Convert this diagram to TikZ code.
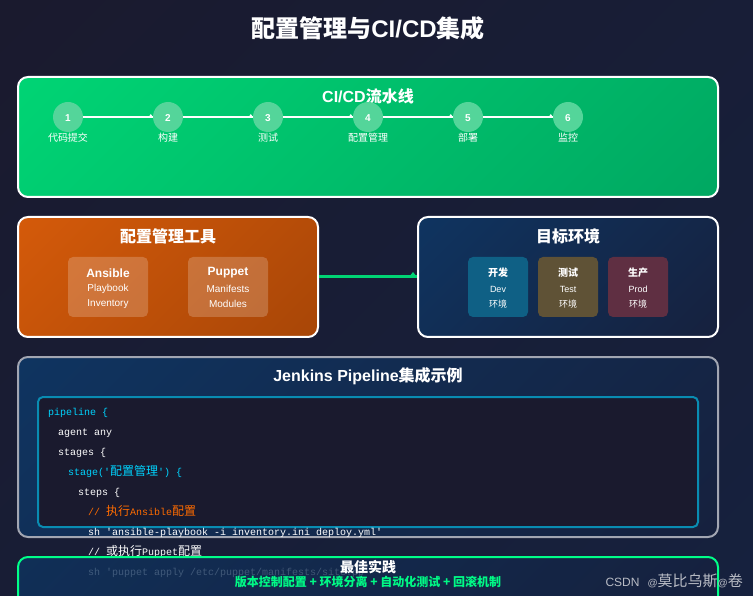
\documentclass[tikz,border=0pt]{standalone}
\usepackage{fontspec}
\setmainfont{Liberation Sans}
\setmonofont{Liberation Mono}
\newfontfamily\cjk{Noto Sans CJK SC}
\newcommand{\zh}[1]{{\cjk #1}}
\newcommand{\zhcode}[1]{{\cjk\fontsize{12}{12}\selectfont #1}}
\definecolor{bgdark}{HTML}{1A1A2E}
\definecolor{bgblue}{HTML}{16213E}
\definecolor{navy}{HTML}{0F3460}
\definecolor{greenA}{HTML}{00D474}
\definecolor{greenB}{HTML}{00A862}
\definecolor{orangeA}{HTML}{D45A0A}
\definecolor{orangeB}{HTML}{A84607}
\definecolor{mint}{HTML}{00FF88}
\definecolor{cyanline}{HTML}{00D4FF}
\definecolor{codeorange}{HTML}{FF6B00}
\definecolor{dotgreen}{HTML}{54D59A}
\definecolor{devblue}{HTML}{0F6085}
\definecolor{testbrown}{HTML}{5F5236}
\definecolor{prodwine}{HTML}{5F2F42}
\pgfdeclareverticalshading{greenfade}{100bp}{color(0bp)=(greenB); color(15bp)=(greenB); color(85bp)=(greenA); color(100bp)=(greenA)}
\pgfdeclareverticalshading{orangefade}{100bp}{color(0bp)=(orangeB); color(15bp)=(orangeB); color(85bp)=(orangeA); color(100bp)=(orangeA)}
\pgfdeclareverticalshading{navyfade}{100bp}{color(0bp)=(bgblue); color(15bp)=(bgblue); color(85bp)=(navy); color(100bp)=(navy)}
\pgfdeclareverticalshading{bgfade}{100bp}{color(0bp)=(bgblue); color(15bp)=(bgblue); color(85bp)=(bgdark); color(100bp)=(bgdark)}
\tikzset{
  panel/.style={draw=white,line width=2pt,rounded corners=10pt,minimum height=120pt,minimum width=700pt,shade,shading angle=45},
  tall/.style={minimum width=300pt},
  stepdot/.style={circle,fill=dotgreen,minimum size=30pt,inner sep=0pt},
  stepnum/.style={text=white,font=\bfseries\fontsize{10}{10}\selectfont},
  steptxt/.style={text=white,font=\fontsize{10}{10}\selectfont},
  heading/.style={text=white,font=\bfseries\fontsize{16}{16}\selectfont},
  toolbox/.style={rounded corners=5pt,minimum width=80pt,minimum height=60pt,fill=white,fill opacity=0.2},
  envbox/.style={rounded corners=5pt,minimum width=60pt,minimum height=60pt},
  boxhead/.style={text=white,font=\bfseries\fontsize{12}{12}\selectfont},
  boxsub/.style={text=white,font=\fontsize{10}{10}\selectfont},
  envhead/.style={text=white,font=\bfseries\fontsize{10}{10}\selectfont},
  envsub/.style={text=white,font=\fontsize{9}{9}\selectfont},
  code/.style={anchor=west,text=white,font=\ttfamily\fontsize{10}{12}\selectfont,inner sep=0pt,text height=7pt,text depth=2pt},
  codeblue/.style={code,text=cyanline}
}
\begin{document}
\begin{tikzpicture}[x=1pt,y=-1pt]
\useasboundingbox (0,0) rectangle (753,596);
\shade[shading=bgfade,shading angle=45] (0,0) rectangle (753,596);
\node[text=white,font=\bfseries\fontsize{24}{24}\selectfont] (title) at (368,28) {\zh{配置管理与}CI/CD\zh{集成}};

\node[panel,shading=greenfade] (pipe) at (368,137) {};
\node[heading] (pipetitle) at (368,96) {CI/CD\zh{流水线}};
\node[stepdot] (a) at (68,117) {};
\node[stepdot] (b) at (168,117) {};
\node[stepdot] (c) at (268,117) {};
\node[stepdot] (d) at (368,117) {};
\node[stepdot] (e) at (468,117) {};
\node[stepdot] (f) at (568,117) {};
\node[stepnum] at (68,118.5) {1};
\node[stepnum] at (168,118.5) {2};
\node[stepnum] at (268,118.5) {3};
\node[stepnum] at (368,118.5) {4};
\node[stepnum] at (468,118.5) {5};
\node[stepnum] at (568,118.5) {6};
\node[steptxt] (atxt) at (68,138) {\zh{代码提交}};
\node[steptxt] (btxt) at (168,138) {\zh{构建}};
\node[steptxt] (ctxt) at (268,138) {\zh{测试}};
\node[steptxt] (dtxt) at (368,138) {\zh{配置管理}};
\node[steptxt] (etxt) at (468,138) {\zh{部署}};
\node[steptxt] (ftxt) at (568,138) {\zh{监控}};
\draw[white,line width=2pt] (a) -- (b);
\draw[white,line width=2pt] (b) -- (c);
\draw[white,line width=2pt] (c) -- (d);
\draw[white,line width=2pt] (d) -- (e);
\draw[white,line width=2pt] (e) -- (f);
\fill[white] (b.west) ++(-4,0) -- ++(2,-3) -- ++(2,3) -- cycle;
\fill[white] (c.west) ++(-4,0) -- ++(2,-3) -- ++(2,3) -- cycle;
\fill[white] (d.west) ++(-4,0) -- ++(2,-3) -- ++(2,3) -- cycle;
\fill[white] (e.west) ++(-4,0) -- ++(2,-3) -- ++(2,3) -- cycle;
\fill[white] (f.west) ++(-4,0) -- ++(2,-3) -- ++(2,3) -- cycle;

\node[panel,tall,shading=orangefade] (tools) at (168,277) {};
\node[heading] (toolstitle) at (168,236) {\zh{配置管理工具}};
\node[toolbox] (ansible) at (108,287) {};
\node[toolbox] (puppet) at (228,287) {};
\node[boxhead] at (108,273) {Ansible};
\node[boxsub] at (108,289) {Playbook};
\node[boxsub] at (108,304) {Inventory};
\node[boxhead] at (228,273) {Puppet};
\node[boxsub] at (228,289) {Manifests};
\node[boxsub] at (228,304) {Modules};

\node[panel,tall,shading=navyfade] (target) at (568,277) {};
\node[heading] (targettitle) at (568,236) {\zh{目标环境}};
\node[envbox,fill=devblue] (dev) at (498,287) {};
\node[envbox,fill=testbrown] (test) at (568,287) {};
\node[envbox,fill=prodwine] (prod) at (638,287) {};
\node[envhead] at (498,273) {\zh{开发}};
\node[envsub] at (498,289) {Dev};
\node[envsub] at (498,304) {\zh{环境}};
\node[envhead] at (568,273) {\zh{测试}};
\node[envsub] at (568,289) {Test};
\node[envsub] at (568,304) {\zh{环境}};
\node[envhead] at (638,273) {\zh{生产}};
\node[envsub] at (638,289) {Prod};
\node[envsub] at (638,304) {\zh{环境}};
\draw[greenA,line width=3pt] (tools) -- (target);
\fill[greenA] (target.west) ++(-8,0) -- ++(4,-5) -- ++(4,5) -- cycle;

\node[panel,draw=white!60!bgblue,minimum height=180pt,shading=navyfade] (jenkins) at (368,447) {};
\node[heading] (jenkinstitle) at (368,376) {Jenkins Pipeline\zh{集成示例}};
\node[draw=cyanline!60!bgblue,line width=2pt,fill=bgdark,rounded corners=5pt,minimum width=660pt,minimum height=130pt] (codebox) at (368,462) {};
\node[codeblue] (l1) at (48,413) {pipeline \{};
\node[code] (l2) at (58,433) {agent any};
\node[code] (l3) at (58,453) {stages \{};
\node[codeblue] (l4) at (68,473) {stage('\zhcode{配置管理}') \{};
\node[code] (l5) at (78,493) {steps \{};
\node[code,text=codeorange] (l6) at (88,513) {// \zhcode{执行}Ansible\zhcode{配置}};
\node[code] (l7) at (88,533) {sh 'ansible-playbook -i inventory.ini deploy.yml'};
\node[code] (l8) at (88,553) {// \zhcode{或执行}Puppet\zhcode{配置}};
\node[code] (l9) at (88,573) {sh 'puppet apply /etc/puppet/manifests/site.pp'};

\node[panel,draw=mint,minimum height=50pt,shading=navyfade,fill opacity=0.8] (best) at (368,582) {};
\node[text=white,font=\bfseries\fontsize{14}{14}\selectfont] (besttitle) at (368,567) {\zh{最佳实践}};
\node[text=mint!85!greenA,font=\bfseries\fontsize{12}{12}\selectfont] (bestsub) at (368,582) {\zh{版本控制配置 + 环境分离 + 自动化测试 + 回滚机制}};

\node[text=white!70!bgblue,font=\fontsize{12}{12}\selectfont,anchor=east,inner sep=0pt] (mark) at (743,581) {CSDN\hspace{8pt}{\fontsize{10}{10}\selectfont @}{\cjk\fontsize{15}{15}\selectfont 莫比乌斯}{\fontsize{10}{10}\selectfont @}{\cjk\fontsize{15}{15}\selectfont 卷}};
\end{tikzpicture}
\end{document}
